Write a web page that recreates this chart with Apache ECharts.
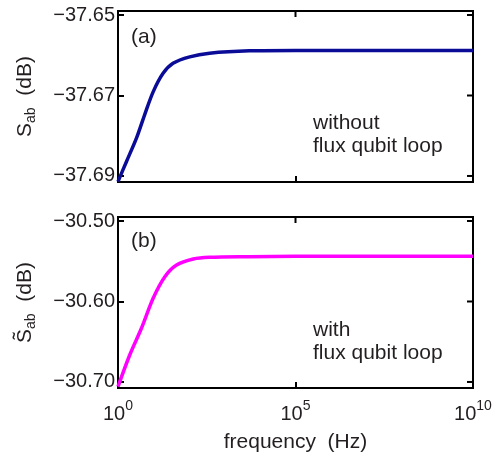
<!DOCTYPE html>
<html>
<head>
<meta charset="utf-8">
<script src="https://cdn.jsdelivr.net/npm/echarts@6/dist/echarts.min.js"></script>
<style>
  html, body { margin: 0; padding: 0; background: #fff; }
  #chart { width: 501px; height: 455px; }
</style>
</head>
<body>
<div id="chart"></div>
<script>
// log10 of frequency (Hz) and the read-off response in dB
const logFreqA = [0, 0.24, 0.52, 0.75, 0.99, 1.27, 1.55, 2.02, 2.58, 3.7, 5, 7.5, 10]
const sabA = [-37.6914, -37.6864, -37.6806, -37.6748, -37.6691, -37.6645, -37.6620, -37.6604, -37.6595, -37.6589, -37.6588, -37.6588, -37.6588]

const logFreqB = [0, 0.33, 0.66, 0.99, 1.32, 1.65, 2.12, 2.58, 3.7, 5, 7.5, 10]
const sabB = [-30.7058, -30.6665, -30.6333, -30.596, -30.5692, -30.5547, -30.5472, -30.5451, -30.5443, -30.5438, -30.5438, -30.5438]

const xTicks = [0, 5, 10]
const yTicksA = [-37.69, -37.67, -37.65]
const yTicksB = [-30.70, -30.60, -30.50]

const FONT = 'Liberation Sans'
const TXT = '#231f20'
const TICK = 6

const chart = echarts.init(document.getElementById('chart'))

const fmtY = v => '\u2212' + Math.abs(v).toFixed(2)

const tick = () => ({ show: true, inside: true, length: TICK, lineStyle: { color: '#000', width: 2 } })

const makeX = (gridIndex, labels) => ({
  type: 'value',
  gridIndex,
  min: 0,
  max: 10,
  axisLine: { show: false },
  splitLine: { show: false },
  axisTick: Object.assign(tick(), { customValues: xTicks }),
  axisLabel: {
    show: labels,
    customValues: xTicks,
    margin: 8,
    fontFamily: FONT,
    color: TXT,
    formatter: v => '{b|10}{e|' + v + '}',
    rich: {
      b: { fontSize: 20, fontFamily: FONT, color: TXT, padding: [8, 0, 0, 0] },
      e: { fontSize: 14, fontFamily: FONT, color: TXT, padding: [0, 0, 8, 0] }
    }
  }
})

const makeY = (gridIndex, ticks, min, max, name) => ({
  type: 'value',
  gridIndex,
  min,
  max,
  axisLine: { show: false },
  splitLine: { show: false },
  axisTick: Object.assign(tick(), { customValues: ticks }),
  axisLabel: {
    customValues: ticks,
    margin: 3,
    fontSize: 20,
    fontFamily: FONT,
    color: TXT,
    formatter: fmtY
  },
  name,
  nameLocation: 'middle',
  nameGap: 80,
  nameRotate: 90,
  nameTextStyle: {
    fontFamily: FONT,
    color: TXT,
    rich: {
      s: { fontSize: 21, fontFamily: FONT, color: TXT },
      sub: { fontSize: 14, fontFamily: FONT, color: TXT, padding: [12, 0, 0, 0] }
    }
  }
})

// mirrored ticks on the right and top edges of the box (MATLAB "box on")
const mirrorTicks = (idx, yTicks, yMax) => ({
  type: 'custom',
  xAxisIndex: idx,
  yAxisIndex: idx,
  silent: true,
  clip: false,
  data: yTicks.map(v => [10, v, 'y']).concat(xTicks.map(v => [v, yMax, 'x'])),
  renderItem: (params, api) => {
    const p = api.coord([api.value(0), api.value(1)])
    const isY = api.value(2) === 'y'
    return {
      type: 'line',
      shape: isY
        ? { x1: p[0] - TICK, y1: p[1], x2: p[0], y2: p[1] }
        : { x1: p[0], y1: p[1], x2: p[0], y2: p[1] + TICK },
      style: { stroke: '#000', lineWidth: 2 }
    }
  }
})

const option = {
  animation: false,
  grid: [
    { left: 118, right: 28, top: 11, height: 171, show: true, borderColor: '#000', borderWidth: 2, backgroundColor: 'transparent' },
    { left: 118, right: 28, top: 217, height: 171, show: true, borderColor: '#000', borderWidth: 2, backgroundColor: 'transparent' }
  ],
  xAxis: [
    makeX(0, false),
    Object.assign(makeX(1, true), {
      name: 'frequency  (Hz)',
      nameLocation: 'middle',
      nameGap: 44,
      nameTextStyle: { fontSize: 21, fontFamily: FONT, color: TXT }
    })
  ],
  yAxis: [
    makeY(0, yTicksA, -37.6915, -37.649, '{s|S}{sub|ab}{s|  (dB)}'),
    makeY(1, yTicksB, -30.7075, -30.495, '{s|S\u0303}{sub|ab}{s|  (dB)}')
  ],
  series: [
    {
      type: 'line',
      xAxisIndex: 0,
      yAxisIndex: 0,
      data: logFreqA.map((x, i) => [x, sabA[i]]),
      smooth: 0.3,
      showSymbol: false,
      lineStyle: { color: '#0a0c98', width: 3.5 }
    },
    {
      type: 'line',
      xAxisIndex: 1,
      yAxisIndex: 1,
      data: logFreqB.map((x, i) => [x, sabB[i]]),
      smooth: 0.3,
      showSymbol: false,
      lineStyle: { color: '#ff00ff', width: 3.5 }
    },
    mirrorTicks(0, yTicksA, -37.649),
    mirrorTicks(1, yTicksB, -30.495)
  ],
  graphic: [
    { type: 'text', left: 131, top: 27, style: { text: '(a)', font: '21px "Liberation Sans"', fill: TXT } },
    { type: 'text', left: 131, top: 231, style: { text: '(b)', font: '21px "Liberation Sans"', fill: TXT } },
    { type: 'text', left: 313, top: 112, style: { text: 'without\nflux qubit loop', font: '21px "Liberation Sans"', lineHeight: 23, fill: TXT } },
    { type: 'text', left: 313, top: 319, style: { text: 'with\nflux qubit loop', font: '21px "Liberation Sans"', lineHeight: 23, fill: TXT } }
  ]
}

chart.setOption(option)
</script>
</body>
</html>
